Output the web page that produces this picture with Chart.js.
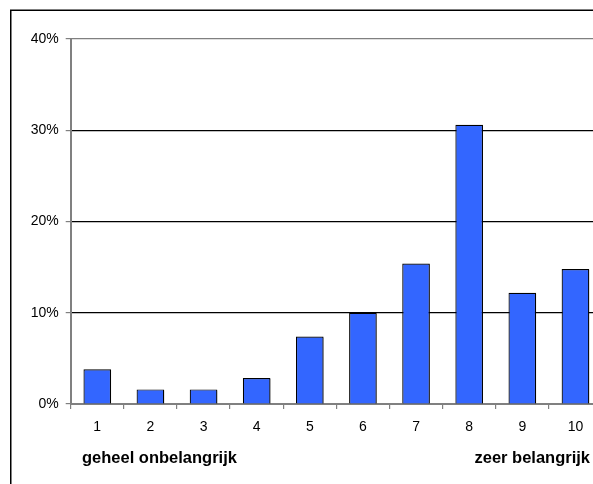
<!DOCTYPE html>
<html>
<head>
<meta charset="utf-8">
<script src="https://cdn.jsdelivr.net/npm/chart.js@4/dist/chart.umd.min.js"></script>
<style>
  html, body { margin: 0; padding: 0; background: #fff; overflow: hidden; }
  #wrap { position: absolute; left: 0; top: 0; width: 602px; height: 484px; }
</style>
</head>
<body>
<div id="wrap"><canvas id="myChart" width="602" height="484"></canvas></div>
<script>
// scores 1..10 and share of answers (percent)
const categories = ['1', '2', '3', '4', '5', '6', '7', '8', '9', '10'];
const shares = [3.8, 1.6, 1.6, 2.85, 7.4, 10.0, 15.4, 30.6, 12.2, 14.8];
const yTicks = [0, 10, 20, 30, 40];
const leftLabel = 'geheel onbelangrijk';
const rightLabel = 'zeer belangrijk';

const AXIS_GREY = '#808080';
const FONT = 'Arial, "Liberation Sans", sans-serif';

// frame around the chart + the two end labels under the axis
const extras = {
    id: 'extras',
    beforeDatasetsDraw(chart) {
        const ctx = chart.ctx;
        ctx.save();
        ctx.shadowColor = 'rgba(0,0,0,0.35)';
        ctx.shadowOffsetX = 1;
        ctx.shadowOffsetY = 1;
    },
    afterDatasetsDraw(chart) {
        chart.ctx.restore();
    },
    afterDraw(chart) {
        const ctx = chart.ctx;
        ctx.save();
        ctx.strokeStyle = '#000';
        ctx.lineWidth = 1.5;
        ctx.strokeRect(10.75, 10.25, 800, 800);

        ctx.fillStyle = '#000';
        ctx.font = 'bold 16.5px ' + FONT;
        ctx.textBaseline = 'alphabetic';
        ctx.textAlign = 'left';
        ctx.fillText(leftLabel, 82, 463);
        ctx.textAlign = 'right';
        ctx.fillText(rightLabel, 590, 463);
        ctx.restore();
    }
};

const ctx = document.getElementById('myChart');
const chart = new Chart(ctx, {
    type: 'bar',
    data: {
        labels: categories,
        datasets: [{
            data: shares,
            backgroundColor: '#3366FF',
            borderColor: '#000',
            borderWidth: 1.2,
            categoryPercentage: 1,
            barPercentage: 0.52
        }]
    },
    options: {
        responsive: false,
        animation: false,
        layout: { padding: { top: 39, right: 0, left: 0, bottom: 0 } },
        plugins: {
            legend: { display: false },
            tooltip: { enabled: false }
        },
        scales: {
            x: {
                offset: true,
                grid: {
                    offset: true,
                    drawOnChartArea: false,
                    tickLength: 5,
                    tickColor: AXIS_GREY,
                    lineWidth: 1.2
                },
                border: { color: AXIS_GREY, width: 2 },
                ticks: {
                    color: '#000',
                    font: { family: FONT, size: 14 },
                    padding: 10,
                    maxRotation: 0
                },
                afterFit(scale) { scale.height = 80; }
            },
            y: {
                min: 0,
                max: 40,
                afterBuildTicks(scale) {
                    scale.ticks = yTicks.map(v => ({ value: v }));
                },
                grid: {
                    color: c => (c.tick && c.tick.value === 40) ? AXIS_GREY : '#000',
                    lineWidth: 1.2,
                    tickLength: 5,
                    tickColor: AXIS_GREY
                },
                border: { color: AXIS_GREY, width: 2 },
                ticks: {
                    color: '#000',
                    font: { family: FONT, size: 14 },
                    padding: 7,
                    callback: v => v + '%'
                },
                afterFit(scale) { scale.width = 70.7; }
            }
        }
    },
    plugins: [extras]
});
</script>
</body>
</html>
